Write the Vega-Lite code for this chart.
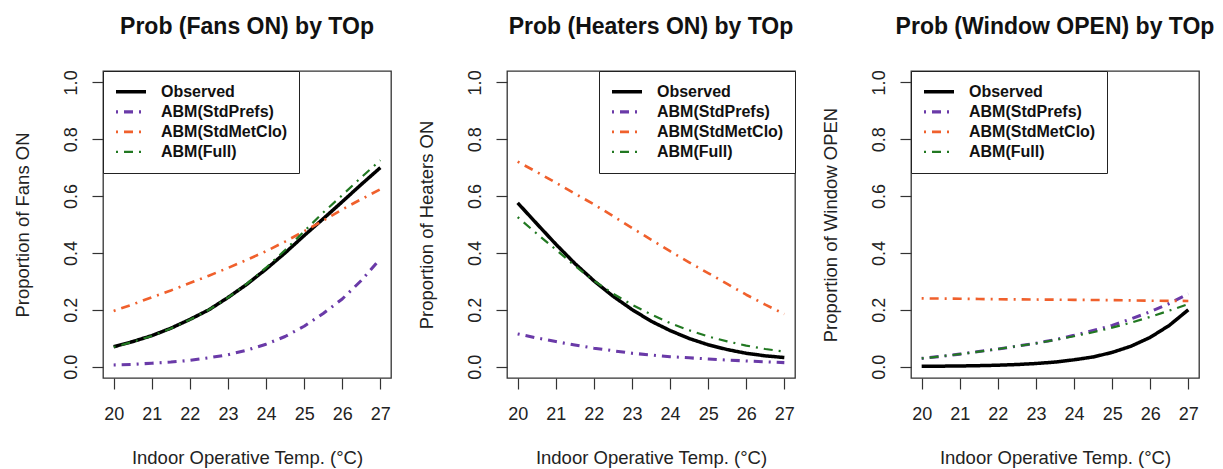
{
  "$schema": "https://vega.github.io/schema/vega-lite/v6.json",
  "padding": {"left": 12, "top": 15, "right": 5, "bottom": 2},
  "background": "white",
  "spacing": 116,
  "bounds": "flush",
  "config": {
    "font": "Liberation Sans",
    "view": {"stroke": "#333333", "strokeWidth": 1.3},
    "axis": {"grid": false, "domain": false, "tickSize": 11, "tickColor": "#333333", "tickWidth": 1.2, "labelFontSize": 18, "labelColor": "#222222", "titleFontSize": 18.5, "titleFontWeight": "normal", "titleColor": "#222222", "labelFont": "Liberation Sans", "titleFont": "Liberation Sans"},
    "axisX": {"labelBaseline": "alphabetic", "labelPadding": 30, "titleY": 85, "titleBaseline": "alphabetic"},
    "axisY": {"labelAngle": 270, "labelAlign": "center", "labelBaseline": "alphabetic", "labelPadding": 16, "titleX": -75, "titleAngle": 270, "titleBaseline": "alphabetic", "titleAlign": "center"},
    "title": {"fontSize": 23, "fontWeight": "bold", "anchor": "middle", "baseline": "alphabetic", "offset": 31, "color": "#111111", "font": "Liberation Sans"},
    "legend": {"title": null, "offset": 0, "strokeColor": "#222222", "fillColor": "white", "padding": 11, "labelFontSize": 16, "labelFontWeight": "bold", "labelFont": "Liberation Sans", "labelColor": "#111111", "symbolType": "stroke", "symbolSize": 900, "labelOffset": 13, "rowPadding": 0, "clipHeight": 19.7}
  },
  "resolve": {
    "scale": {"color": "independent", "strokeDash": "independent", "strokeWidth": "independent"},
    "legend": {"color": "independent", "strokeDash": "independent", "strokeWidth": "independent"}
  },
  "datasets": {
    "fans": [
      {"series": "Observed", "temp": 20, "prop": 0.070}, {"series": "Observed", "temp": 20.5, "prop": 0.088}, {"series": "Observed", "temp": 21, "prop": 0.109}, {"series": "Observed", "temp": 21.5, "prop": 0.135}, {"series": "Observed", "temp": 22, "prop": 0.166}, {"series": "Observed", "temp": 22.5, "prop": 0.200}, {"series": "Observed", "temp": 23, "prop": 0.243}, {"series": "Observed", "temp": 23.5, "prop": 0.290}, {"series": "Observed", "temp": 24, "prop": 0.343}, {"series": "Observed", "temp": 24.5, "prop": 0.400}, {"series": "Observed", "temp": 25, "prop": 0.461}, {"series": "Observed", "temp": 25.5, "prop": 0.520}, {"series": "Observed", "temp": 26, "prop": 0.580}, {"series": "Observed", "temp": 26.5, "prop": 0.641}, {"series": "Observed", "temp": 27, "prop": 0.700},
      {"series": "ABM(StdPrefs)", "temp": 20, "prop": 0.006}, {"series": "ABM(StdPrefs)", "temp": 20.5, "prop": 0.008}, {"series": "ABM(StdPrefs)", "temp": 21, "prop": 0.012}, {"series": "ABM(StdPrefs)", "temp": 21.5, "prop": 0.016}, {"series": "ABM(StdPrefs)", "temp": 22, "prop": 0.022}, {"series": "ABM(StdPrefs)", "temp": 22.5, "prop": 0.031}, {"series": "ABM(StdPrefs)", "temp": 23, "prop": 0.042}, {"series": "ABM(StdPrefs)", "temp": 23.5, "prop": 0.058}, {"series": "ABM(StdPrefs)", "temp": 24, "prop": 0.079}, {"series": "ABM(StdPrefs)", "temp": 24.5, "prop": 0.106}, {"series": "ABM(StdPrefs)", "temp": 25, "prop": 0.142}, {"series": "ABM(StdPrefs)", "temp": 25.5, "prop": 0.187}, {"series": "ABM(StdPrefs)", "temp": 26, "prop": 0.238}, {"series": "ABM(StdPrefs)", "temp": 26.5, "prop": 0.303}, {"series": "ABM(StdPrefs)", "temp": 27, "prop": 0.380},
      {"series": "ABM(StdMetClo)", "temp": 20, "prop": 0.196}, {"series": "ABM(StdMetClo)", "temp": 20.5, "prop": 0.219}, {"series": "ABM(StdMetClo)", "temp": 21, "prop": 0.244}, {"series": "ABM(StdMetClo)", "temp": 21.5, "prop": 0.268}, {"series": "ABM(StdMetClo)", "temp": 22, "prop": 0.294}, {"series": "ABM(StdMetClo)", "temp": 22.5, "prop": 0.320}, {"series": "ABM(StdMetClo)", "temp": 23, "prop": 0.347}, {"series": "ABM(StdMetClo)", "temp": 23.5, "prop": 0.376}, {"series": "ABM(StdMetClo)", "temp": 24, "prop": 0.406}, {"series": "ABM(StdMetClo)", "temp": 24.5, "prop": 0.440}, {"series": "ABM(StdMetClo)", "temp": 25, "prop": 0.476}, {"series": "ABM(StdMetClo)", "temp": 25.5, "prop": 0.514}, {"series": "ABM(StdMetClo)", "temp": 26, "prop": 0.553}, {"series": "ABM(StdMetClo)", "temp": 26.5, "prop": 0.589}, {"series": "ABM(StdMetClo)", "temp": 27, "prop": 0.624},
      {"series": "ABM(Full)", "temp": 20, "prop": 0.069}, {"series": "ABM(Full)", "temp": 20.5, "prop": 0.087}, {"series": "ABM(Full)", "temp": 21, "prop": 0.108}, {"series": "ABM(Full)", "temp": 21.5, "prop": 0.134}, {"series": "ABM(Full)", "temp": 22, "prop": 0.165}, {"series": "ABM(Full)", "temp": 22.5, "prop": 0.200}, {"series": "ABM(Full)", "temp": 23, "prop": 0.243}, {"series": "ABM(Full)", "temp": 23.5, "prop": 0.292}, {"series": "ABM(Full)", "temp": 24, "prop": 0.348}, {"series": "ABM(Full)", "temp": 24.5, "prop": 0.410}, {"series": "ABM(Full)", "temp": 25, "prop": 0.476}, {"series": "ABM(Full)", "temp": 25.5, "prop": 0.542}, {"series": "ABM(Full)", "temp": 26, "prop": 0.603}, {"series": "ABM(Full)", "temp": 26.5, "prop": 0.666}, {"series": "ABM(Full)", "temp": 27, "prop": 0.726}
    ],
    "heaters": [
      {"series": "Observed", "temp": 20, "prop": 0.576}, {"series": "Observed", "temp": 20.5, "prop": 0.503}, {"series": "Observed", "temp": 21, "prop": 0.431}, {"series": "Observed", "temp": 21.5, "prop": 0.363}, {"series": "Observed", "temp": 22, "prop": 0.302}, {"series": "Observed", "temp": 22.5, "prop": 0.248}, {"series": "Observed", "temp": 23, "prop": 0.201}, {"series": "Observed", "temp": 23.5, "prop": 0.160}, {"series": "Observed", "temp": 24, "prop": 0.127}, {"series": "Observed", "temp": 24.5, "prop": 0.099}, {"series": "Observed", "temp": 25, "prop": 0.077}, {"series": "Observed", "temp": 25.5, "prop": 0.060}, {"series": "Observed", "temp": 26, "prop": 0.047}, {"series": "Observed", "temp": 26.5, "prop": 0.038}, {"series": "Observed", "temp": 27, "prop": 0.032},
      {"series": "ABM(StdPrefs)", "temp": 20, "prop": 0.115}, {"series": "ABM(StdPrefs)", "temp": 20.5, "prop": 0.101}, {"series": "ABM(StdPrefs)", "temp": 21, "prop": 0.088}, {"series": "ABM(StdPrefs)", "temp": 21.5, "prop": 0.076}, {"series": "ABM(StdPrefs)", "temp": 22, "prop": 0.065}, {"series": "ABM(StdPrefs)", "temp": 22.5, "prop": 0.056}, {"series": "ABM(StdPrefs)", "temp": 23, "prop": 0.047}, {"series": "ABM(StdPrefs)", "temp": 23.5, "prop": 0.041}, {"series": "ABM(StdPrefs)", "temp": 24, "prop": 0.035}, {"series": "ABM(StdPrefs)", "temp": 24.5, "prop": 0.031}, {"series": "ABM(StdPrefs)", "temp": 25, "prop": 0.027}, {"series": "ABM(StdPrefs)", "temp": 25.5, "prop": 0.023}, {"series": "ABM(StdPrefs)", "temp": 26, "prop": 0.020}, {"series": "ABM(StdPrefs)", "temp": 26.5, "prop": 0.017}, {"series": "ABM(StdPrefs)", "temp": 27, "prop": 0.014},
      {"series": "ABM(StdMetClo)", "temp": 20, "prop": 0.721}, {"series": "ABM(StdMetClo)", "temp": 20.5, "prop": 0.685}, {"series": "ABM(StdMetClo)", "temp": 21, "prop": 0.647}, {"series": "ABM(StdMetClo)", "temp": 21.5, "prop": 0.609}, {"series": "ABM(StdMetClo)", "temp": 22, "prop": 0.571}, {"series": "ABM(StdMetClo)", "temp": 22.5, "prop": 0.530}, {"series": "ABM(StdMetClo)", "temp": 23, "prop": 0.488}, {"series": "ABM(StdMetClo)", "temp": 23.5, "prop": 0.447}, {"series": "ABM(StdMetClo)", "temp": 24, "prop": 0.406}, {"series": "ABM(StdMetClo)", "temp": 24.5, "prop": 0.367}, {"series": "ABM(StdMetClo)", "temp": 25, "prop": 0.329}, {"series": "ABM(StdMetClo)", "temp": 25.5, "prop": 0.291}, {"series": "ABM(StdMetClo)", "temp": 26, "prop": 0.253}, {"series": "ABM(StdMetClo)", "temp": 26.5, "prop": 0.218}, {"series": "ABM(StdMetClo)", "temp": 27, "prop": 0.185},
      {"series": "ABM(Full)", "temp": 20, "prop": 0.526}, {"series": "ABM(Full)", "temp": 20.5, "prop": 0.468}, {"series": "ABM(Full)", "temp": 21, "prop": 0.412}, {"series": "ABM(Full)", "temp": 21.5, "prop": 0.355}, {"series": "ABM(Full)", "temp": 22, "prop": 0.302}, {"series": "ABM(Full)", "temp": 22.5, "prop": 0.257}, {"series": "ABM(Full)", "temp": 23, "prop": 0.218}, {"series": "ABM(Full)", "temp": 23.5, "prop": 0.184}, {"series": "ABM(Full)", "temp": 24, "prop": 0.153}, {"series": "ABM(Full)", "temp": 24.5, "prop": 0.128}, {"series": "ABM(Full)", "temp": 25, "prop": 0.106}, {"series": "ABM(Full)", "temp": 25.5, "prop": 0.089}, {"series": "ABM(Full)", "temp": 26, "prop": 0.074}, {"series": "ABM(Full)", "temp": 26.5, "prop": 0.062}, {"series": "ABM(Full)", "temp": 27, "prop": 0.053}
    ],
    "window": [
      {"series": "Observed", "temp": 20, "prop": 0.001}, {"series": "Observed", "temp": 20.5, "prop": 0.0016}, {"series": "Observed", "temp": 21, "prop": 0.0023}, {"series": "Observed", "temp": 21.5, "prop": 0.0034}, {"series": "Observed", "temp": 22, "prop": 0.005}, {"series": "Observed", "temp": 22.5, "prop": 0.0074}, {"series": "Observed", "temp": 23, "prop": 0.011}, {"series": "Observed", "temp": 23.5, "prop": 0.016}, {"series": "Observed", "temp": 24, "prop": 0.024}, {"series": "Observed", "temp": 24.5, "prop": 0.034}, {"series": "Observed", "temp": 25, "prop": 0.050}, {"series": "Observed", "temp": 25.5, "prop": 0.072}, {"series": "Observed", "temp": 26, "prop": 0.103}, {"series": "Observed", "temp": 26.5, "prop": 0.145}, {"series": "Observed", "temp": 27, "prop": 0.200},
      {"series": "ABM(StdPrefs)", "temp": 20, "prop": 0.029}, {"series": "ABM(StdPrefs)", "temp": 20.5, "prop": 0.036}, {"series": "ABM(StdPrefs)", "temp": 21, "prop": 0.044}, {"series": "ABM(StdPrefs)", "temp": 21.5, "prop": 0.053}, {"series": "ABM(StdPrefs)", "temp": 22, "prop": 0.062}, {"series": "ABM(StdPrefs)", "temp": 22.5, "prop": 0.072}, {"series": "ABM(StdPrefs)", "temp": 23, "prop": 0.082}, {"series": "ABM(StdPrefs)", "temp": 23.5, "prop": 0.095}, {"series": "ABM(StdPrefs)", "temp": 24, "prop": 0.110}, {"series": "ABM(StdPrefs)", "temp": 24.5, "prop": 0.127}, {"series": "ABM(StdPrefs)", "temp": 25, "prop": 0.145}, {"series": "ABM(StdPrefs)", "temp": 25.5, "prop": 0.168}, {"series": "ABM(StdPrefs)", "temp": 26, "prop": 0.193}, {"series": "ABM(StdPrefs)", "temp": 26.5, "prop": 0.222}, {"series": "ABM(StdPrefs)", "temp": 27, "prop": 0.256},
      {"series": "ABM(StdMetClo)", "temp": 20, "prop": 0.240}, {"series": "ABM(StdMetClo)", "temp": 20.5, "prop": 0.2395}, {"series": "ABM(StdMetClo)", "temp": 21, "prop": 0.239}, {"series": "ABM(StdMetClo)", "temp": 21.5, "prop": 0.238}, {"series": "ABM(StdMetClo)", "temp": 22, "prop": 0.237}, {"series": "ABM(StdMetClo)", "temp": 22.5, "prop": 0.2365}, {"series": "ABM(StdMetClo)", "temp": 23, "prop": 0.236}, {"series": "ABM(StdMetClo)", "temp": 23.5, "prop": 0.2355}, {"series": "ABM(StdMetClo)", "temp": 24, "prop": 0.235}, {"series": "ABM(StdMetClo)", "temp": 24.5, "prop": 0.2345}, {"series": "ABM(StdMetClo)", "temp": 25, "prop": 0.234}, {"series": "ABM(StdMetClo)", "temp": 25.5, "prop": 0.233}, {"series": "ABM(StdMetClo)", "temp": 26, "prop": 0.232}, {"series": "ABM(StdMetClo)", "temp": 26.5, "prop": 0.2315}, {"series": "ABM(StdMetClo)", "temp": 27, "prop": 0.231},
      {"series": "ABM(Full)", "temp": 20, "prop": 0.029}, {"series": "ABM(Full)", "temp": 20.5, "prop": 0.036}, {"series": "ABM(Full)", "temp": 21, "prop": 0.044}, {"series": "ABM(Full)", "temp": 21.5, "prop": 0.053}, {"series": "ABM(Full)", "temp": 22, "prop": 0.062}, {"series": "ABM(Full)", "temp": 22.5, "prop": 0.072}, {"series": "ABM(Full)", "temp": 23, "prop": 0.082}, {"series": "ABM(Full)", "temp": 23.5, "prop": 0.094}, {"series": "ABM(Full)", "temp": 24, "prop": 0.107}, {"series": "ABM(Full)", "temp": 24.5, "prop": 0.121}, {"series": "ABM(Full)", "temp": 25, "prop": 0.137}, {"series": "ABM(Full)", "temp": 25.5, "prop": 0.155}, {"series": "ABM(Full)", "temp": 26, "prop": 0.175}, {"series": "ABM(Full)", "temp": 26.5, "prop": 0.197}, {"series": "ABM(Full)", "temp": 27, "prop": 0.220}
    ]
  },
  "hconcat": [
    {
      "width": 288, "height": 307,
      "title": "Prob (Fans ON) by TOp",
      "data": {"name": "fans"},
      "mark": {"type": "line", "strokeCap": "butt", "strokeJoin": "round"},
      "encoding": {
        "x": {"field": "temp", "type": "quantitative", "scale": {"domain": [19.72, 27.28], "nice": false, "zero": false}, "axis": {"title": "Indoor Operative Temp. (°C)", "values": [20, 21, 22, 23, 24, 25, 26, 27], "format": "d"}},
        "y": {"field": "prop", "type": "quantitative", "scale": {"domain": [-0.04, 1.04], "nice": false, "zero": false}, "axis": {"title": "Proportion of Fans ON", "values": [0, 0.2, 0.4, 0.6, 0.8, 1.0], "format": ".1f"}},
        "color": {"field": "series", "type": "nominal", "scale": {"domain": ["Observed", "ABM(StdPrefs)", "ABM(StdMetClo)", "ABM(Full)"], "range": ["#000000", "#6A3AA8", "#F0602C", "#217821"]}, "legend": {"orient": "top-left"}},
        "strokeDash": {"field": "series", "type": "nominal", "scale": {"domain": ["Observed", "ABM(StdPrefs)", "ABM(StdMetClo)", "ABM(Full)"], "range": [[1, 0], [2, 6, 9, 6], [2, 6, 9, 6], [2, 6, 9, 6]]}, "legend": {"orient": "top-left"}},
        "strokeWidth": {"field": "series", "type": "ordinal", "scale": {"domain": ["Observed", "ABM(StdPrefs)", "ABM(StdMetClo)", "ABM(Full)"], "range": [3.5, 2.2, 2.2, 2.2]}, "legend": {"orient": "top-left"}}
      }
    },
    {
      "width": 288, "height": 307,
      "title": "Prob (Heaters ON) by TOp",
      "data": {"name": "heaters"},
      "mark": {"type": "line", "strokeCap": "butt", "strokeJoin": "round"},
      "encoding": {
        "x": {"field": "temp", "type": "quantitative", "scale": {"domain": [19.72, 27.28], "nice": false, "zero": false}, "axis": {"title": "Indoor Operative Temp. (°C)", "values": [20, 21, 22, 23, 24, 25, 26, 27], "format": "d"}},
        "y": {"field": "prop", "type": "quantitative", "scale": {"domain": [-0.04, 1.04], "nice": false, "zero": false}, "axis": {"title": "Proportion of Heaters ON", "values": [0, 0.2, 0.4, 0.6, 0.8, 1.0], "format": ".1f"}},
        "color": {"field": "series", "type": "nominal", "scale": {"domain": ["Observed", "ABM(StdPrefs)", "ABM(StdMetClo)", "ABM(Full)"], "range": ["#000000", "#6A3AA8", "#F0602C", "#217821"]}, "legend": {"orient": "top-right"}},
        "strokeDash": {"field": "series", "type": "nominal", "scale": {"domain": ["Observed", "ABM(StdPrefs)", "ABM(StdMetClo)", "ABM(Full)"], "range": [[1, 0], [2, 6, 9, 6], [2, 6, 9, 6], [2, 6, 9, 6]]}, "legend": {"orient": "top-right"}},
        "strokeWidth": {"field": "series", "type": "ordinal", "scale": {"domain": ["Observed", "ABM(StdPrefs)", "ABM(StdMetClo)", "ABM(Full)"], "range": [3.5, 2.2, 2.2, 2.2]}, "legend": {"orient": "top-right"}}
      }
    },
    {
      "width": 288, "height": 307,
      "title": "Prob (Window OPEN) by TOp",
      "data": {"name": "window"},
      "mark": {"type": "line", "strokeCap": "butt", "strokeJoin": "round"},
      "encoding": {
        "x": {"field": "temp", "type": "quantitative", "scale": {"domain": [19.72, 27.28], "nice": false, "zero": false}, "axis": {"title": "Indoor Operative Temp. (°C)", "values": [20, 21, 22, 23, 24, 25, 26, 27], "format": "d"}},
        "y": {"field": "prop", "type": "quantitative", "scale": {"domain": [-0.04, 1.04], "nice": false, "zero": false}, "axis": {"title": "Proportion of Window OPEN", "values": [0, 0.2, 0.4, 0.6, 0.8, 1.0], "format": ".1f"}},
        "color": {"field": "series", "type": "nominal", "scale": {"domain": ["Observed", "ABM(StdPrefs)", "ABM(StdMetClo)", "ABM(Full)"], "range": ["#000000", "#6A3AA8", "#F0602C", "#217821"]}, "legend": {"orient": "top-left"}},
        "strokeDash": {"field": "series", "type": "nominal", "scale": {"domain": ["Observed", "ABM(StdPrefs)", "ABM(StdMetClo)", "ABM(Full)"], "range": [[1, 0], [2, 6, 9, 6], [2, 6, 9, 6], [2, 6, 9, 6]]}, "legend": {"orient": "top-left"}},
        "strokeWidth": {"field": "series", "type": "ordinal", "scale": {"domain": ["Observed", "ABM(StdPrefs)", "ABM(StdMetClo)", "ABM(Full)"], "range": [3.5, 2.2, 2.2, 2.2]}, "legend": {"orient": "top-left"}}
      }
    }
  ]
}
